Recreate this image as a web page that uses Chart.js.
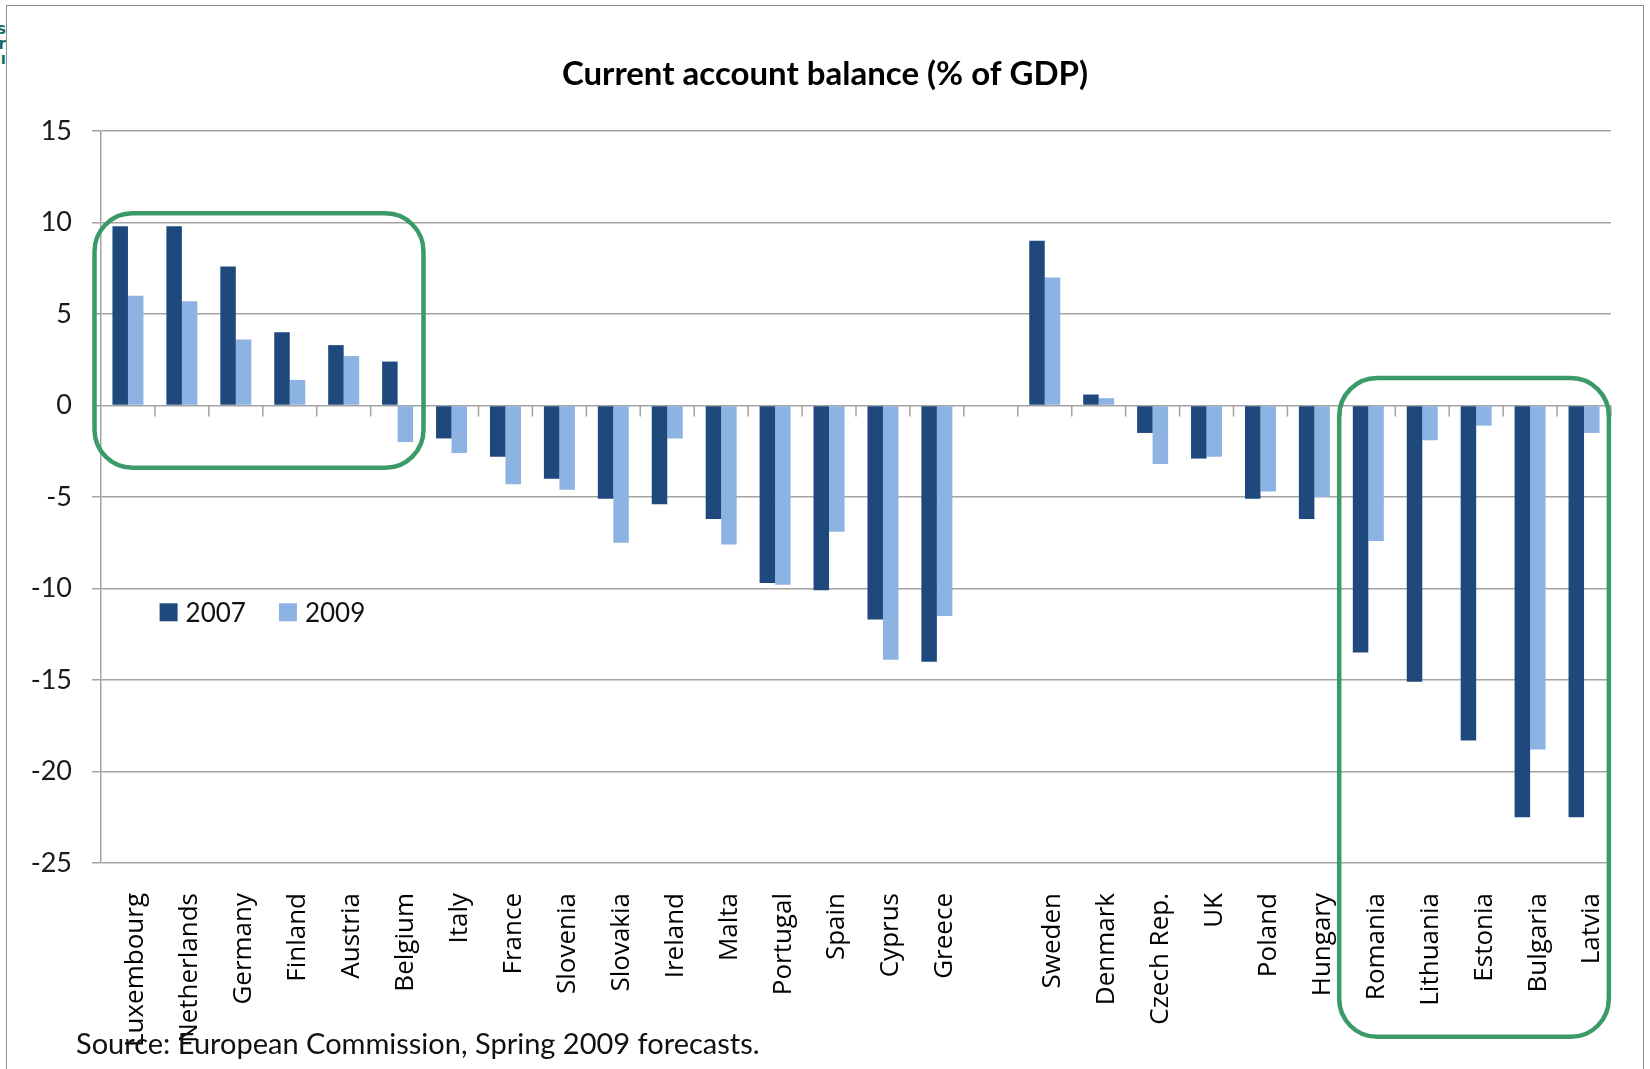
<!DOCTYPE html>
<html>
<head>
<meta charset="utf-8">
<script src="https://cdn.jsdelivr.net/npm/chart.js@4.4.1/dist/chart.umd.min.js"></script>
<style>
  html, body { margin: 0; padding: 0; background: #fff; }
  body { width: 1650px; height: 1069px; position: relative; overflow: hidden; }
  #frame { position: absolute; left: 6px; top: 5px; width: 1638px; height: 1100px;
           border: 1px solid #8c8c8c; box-sizing: border-box; }
  #wrap { position: absolute; left: 0; top: 0; width: 1650px; height: 1069px; }
  #source { position: absolute; left: 76px; top: 1025px; font-family: Lato, sans-serif;
            font-size: 29px; color: #111; white-space: nowrap; }
  #badge { position: absolute; left: 0; top: 22px; width: 6px; height: 46px; overflow: hidden; }
  #badge div { margin-left: -40px; width: 46px; text-align: right; color: #166b62;
               font: bold 15px/15px "DejaVu Sans", sans-serif; }
</style>
</head>
<body>
<div id="frame"></div>
<div id="badge"><div>ss<br>rr<br>ıı</div></div>
<div id="wrap"><canvas id="chart" width="1650" height="1069"></canvas></div>
<div id="source">Source: European Commission, Spring 2009 forecasts.</div>

<script>
// Current account balance, % of GDP (empty slot separates euro area from the rest)
const countries = ['Luxembourg', 'Netherlands', 'Germany', 'Finland', 'Austria', 'Belgium',
  'Italy', 'France', 'Slovenia', 'Slovakia', 'Ireland', 'Malta', 'Portugal', 'Spain',
  'Cyprus', 'Greece', '', 'Sweden', 'Denmark', 'Czech Rep.', 'UK', 'Poland', 'Hungary',
  'Romania', 'Lithuania', 'Estonia', 'Bulgaria', 'Latvia'];

const balance2007 = [9.8, 9.8, 7.6, 4.0, 3.3, 2.4, -1.8, -2.8, -4.0, -5.1, -5.4, -6.2,
  -9.7, -10.1, -11.7, -14.0, null, 9.0, 0.6, -1.5, -2.9, -5.1, -6.2, -13.5, -15.1,
  -18.3, -22.5, -22.5];

const balance2009 = [6.0, 5.7, 3.6, 1.4, 2.7, -2.0, -2.6, -4.3, -4.6, -7.5, -1.8, -7.6,
  -9.8, -6.9, -13.9, -11.5, null, 7.0, 0.4, -3.2, -2.8, -4.7, -5.0, -7.4, -1.9,
  -1.1, -18.8, -1.5];

const seriesLabels = ['2007', '2009'];

const chartTitle = 'Current account balance (% of GDP)';

// value axis ticks
const yMin = -25;
const yMax = 15;
const yStep = 5;

// highlighted country groups, in category-index / value units
const highlightGroups = [
  { from: -0.62, to: 5.48, top: 10.5, bottom: -3.4 },
  { from: 22.46, to: 27.46, top: 1.5, bottom: -34.5 }
];

const gridGray = '#a3a3a3';

// title centred on the whole canvas
const centredTitle = {
  id: 'centredTitle',
  afterDraw(chart, args, opts) {
    const { ctx } = chart;
    ctx.save();
    ctx.font = opts.font;
    ctx.fillStyle = opts.color;
    ctx.textAlign = 'center';
    ctx.textBaseline = 'middle';
    ctx.fillText(opts.text, chart.width / 2, opts.y);
    ctx.restore();
  }
};

// tick marks along the zero line, at the category boundaries
const zeroTicks = {
  id: 'zeroTicks',
  afterDatasetsDraw(chart) {
    const { ctx } = chart;
    const x = chart.scales.x, y = chart.scales.y;
    const y0 = y.getPixelForValue(0);
    const n = chart.data.labels.length;
    ctx.save();
    ctx.strokeStyle = gridGray;
    ctx.lineWidth = 1.5;
    ctx.beginPath();
    for (let i = 1; i <= n; i++) {
      const px = (x.getPixelForValue(i - 1) + x.getPixelForValue(i)) / 2;
      ctx.moveTo(px, y0);
      ctx.lineTo(px, y0 + 11);
    }
    ctx.stroke();
    ctx.restore();
  }
};

// legend drawn inside the plot area
const insideLegend = {
  id: 'insideLegend',
  afterDraw(chart, args, opts) {
    const { ctx, chartArea } = chart;
    ctx.save();
    ctx.font = opts.font;
    ctx.textBaseline = 'middle';
    let x = chartArea.left + opts.offsetX;
    const y = chartArea.top + opts.offsetY;
    chart.data.datasets.forEach(ds => {
      ctx.fillStyle = ds.backgroundColor;
      ctx.fillRect(x, y - opts.box / 2, opts.box, opts.box);
      x += opts.box + opts.gap;
      ctx.fillStyle = opts.color;
      ctx.fillText(ds.label, x, y + 1);
      x += ctx.measureText(ds.label).width + opts.itemGap;
    });
    ctx.restore();
  }
};

// rounded outlines around the highlighted groups
const groupOutlines = {
  id: 'groupOutlines',
  afterDraw(chart, args, opts) {
    const { ctx } = chart;
    const x = chart.scales.x, y = chart.scales.y;
    ctx.save();
    ctx.strokeStyle = opts.color;
    ctx.lineWidth = opts.width;
    highlightGroups.forEach(g => {
      const l = x.getPixelForValue(g.from), r = x.getPixelForValue(g.to);
      const t = y.getPixelForValue(g.top), b = y.getPixelForValue(g.bottom);
      ctx.beginPath();
      ctx.roundRect(l, t, r - l, b - t, opts.radius);
      ctx.stroke();
    });
    ctx.restore();
  }
};

new Chart(document.getElementById('chart'), {
  type: 'bar',
  data: {
    labels: countries,
    datasets: [
      { label: seriesLabels[0], data: balance2007, backgroundColor: '#1f497d' },
      { label: seriesLabels[1], data: balance2009, backgroundColor: '#8db3e2' }
    ]
  },
  options: {
    responsive: false,
    animation: false,
    devicePixelRatio: 1,
    layout: { padding: { left: 0, right: 39, top: 131, bottom: 0 } },
    datasets: { bar: { categoryPercentage: 0.575, barPercentage: 1.0, borderWidth: 0 } },
    scales: {
      x: {
        grid: { display: false, drawTicks: false },
        border: { display: false },
        ticks: {
          autoSkip: false, minRotation: 90, maxRotation: 90, padding: 30, labelOffset: 8,
          color: '#000', font: { family: 'Open Sans', size: 26 }
        },
        afterFit(scale) { scale.height = 206; }
      },
      y: {
        min: yMin, max: yMax,
        ticks: { stepSize: yStep, padding: 20, color: '#1a1a1a',
                 font: { family: 'Lato', size: 27 } },
        grid: { color: gridGray, lineWidth: 1.5, tickLength: 9, tickColor: gridGray },
        border: { display: true, color: gridGray, width: 1.5 },
        afterFit(scale) { scale.width = 101; }
      }
    },
    plugins: {
      legend: { display: false },
      tooltip: { enabled: false },
      title: { display: false },
      centredTitle: { text: chartTitle, font: 'bold 33px Lato', color: '#000', y: 74 },
      insideLegend: { font: '26px Lato', color: '#111', offsetX: 58.6, offsetY: 481.3,
                      box: 18, gap: 8, itemGap: 33 },
      groupOutlines: { color: '#3a9a68', width: 4.5, radius: 38 }
    }
  },
  plugins: [centredTitle, zeroTicks, insideLegend, groupOutlines]
});
</script>
</body>
</html>
